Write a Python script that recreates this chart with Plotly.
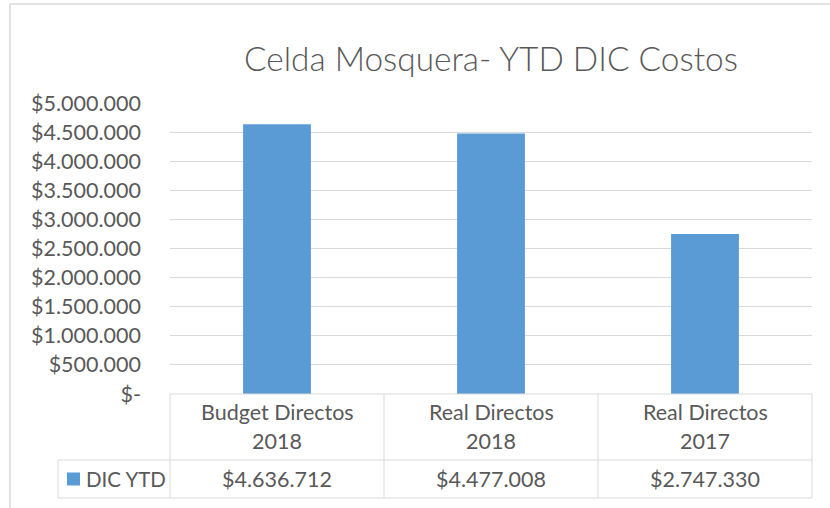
import plotly.graph_objects as go

# ---------------- data ----------------
title_text = "Celda Mosquera- YTD DIC Costos"
categories = ["Budget Directos 2018", "Real Directos 2018", "Real Directos 2017"]
category_line1 = ["Budget Directos", "Real Directos", "Real Directos"]
category_line2 = ["2018", "2018", "2017"]
series_name = "DIC YTD"
values = [4636712, 4477008, 2747330]
y_tickvals = [0, 500000, 1000000, 1500000, 2000000, 2500000,
              3000000, 3500000, 4000000, 4500000, 5000000]
y_ticktext = ["$-", "$500.000", "$1.000.000", "$1.500.000", "$2.000.000", "$2.500.000",
              "$3.000.000", "$3.500.000", "$4.000.000", "$4.500.000", "$5.000.000"]


def money(v):
    return "$" + f"{v:,}".replace(",", ".")


value_labels = [money(v) for v in values]

# ---------------- styling / layout ----------------
W, H = 830, 508
L, R, T, B = 170, 18, 103, 114
PW, PH = W - L - R, H - T - B
FONT = "Lato, Carlito, 'Open Sans', sans-serif"
TXT = "#595959"
GRID = "#D9D9D9"
BAR = "#5B9BD5"
FS = 21.5
FW = 400
TITLE_FW = 300


def px2x(px):
    return (px - L) / PW


def py2y(py):
    return (H - B - py) / PH


fig = go.Figure()
fig.add_trace(go.Bar(
    x=categories, y=values, name=series_name,
    marker=dict(color=BAR, line=dict(width=0)),
    showlegend=False, hoverinfo="skip",
))

shapes = []
line = dict(color=GRID, width=1)
# outer chart border
shapes.append(dict(type="rect", xref="paper", yref="paper",
                   x0=px2x(10), x1=px2x(845), y0=py2y(4), y1=py2y(520),
                   line=dict(color=GRID, width=1.5), layer="below"))
# data table grid
col_edges = [0, 1 / 3, 2 / 3, 1]
for xe in col_edges:
    shapes.append(dict(type="line", xref="paper", yref="paper",
                       x0=xe, x1=xe, y0=py2y(394), y1=py2y(498), line=line))
shapes.append(dict(type="line", xref="paper", yref="paper",
                   x0=0, x1=1, y0=py2y(394), y1=py2y(394), line=line))
for yy in (460, 498):
    shapes.append(dict(type="line", xref="paper", yref="paper",
                       x0=px2x(58), x1=1, y0=py2y(yy), y1=py2y(yy), line=line))
shapes.append(dict(type="line", xref="paper", yref="paper",
                   x0=px2x(58), x1=px2x(58), y0=py2y(460), y1=py2y(498), line=line))
# legend key swatch
shapes.append(dict(type="rect", xref="paper", yref="paper",
                   x0=px2x(67), x1=px2x(80), y0=py2y(472.5), y1=py2y(485.5),
                   fillcolor=BAR, line=dict(width=0)))

annotations = []
annotations.append(dict(text=title_text, xref="paper", yref="paper", x=0.5, y=py2y(58),
                        xanchor="center", yanchor="middle", showarrow=False,
                        font=dict(family=FONT, size=33.4, color=TXT, weight=TITLE_FW)))
for c, l1, l2, vl in zip(categories, category_line1, category_line2, value_labels):
    annotations.append(dict(text=l1, xref="x", yref="paper", x=c, y=py2y(412),
                            xanchor="center", yanchor="middle", showarrow=False,
                            font=dict(family=FONT, size=FS, color=TXT, weight=FW)))
    annotations.append(dict(text=l2, xref="x", yref="paper", x=c, y=py2y(441),
                            xanchor="center", yanchor="middle", showarrow=False,
                            font=dict(family=FONT, size=FS, color=TXT, weight=FW)))
    annotations.append(dict(text=vl, xref="x", yref="paper", x=c, y=py2y(479),
                            xanchor="center", yanchor="middle", showarrow=False,
                            font=dict(family=FONT, size=FS, color=TXT, weight=FW)))
annotations.append(dict(text=series_name, xref="paper", yref="paper", x=px2x(84), y=py2y(479),
                        xanchor="left", yanchor="middle", showarrow=False,
                        font=dict(family=FONT, size=FS - 1, color=TXT, weight=FW)))

fig.update_layout(
    width=W, height=H,
    margin=dict(l=L, r=R, t=T, b=B, pad=0),
    paper_bgcolor="white", plot_bgcolor="white",
    bargap=0.683,
    shapes=shapes, annotations=annotations,
    font=dict(family=FONT, color=TXT, size=FS, weight=FW),
    xaxis=dict(showticklabels=False, showgrid=False, zeroline=False, showline=False,
               range=[-0.5, 2.5], fixedrange=True),
    yaxis=dict(range=[0, 5000000], tickvals=y_tickvals, ticktext=y_ticktext,
               showgrid=True, gridcolor=GRID, gridwidth=1, zeroline=False, showline=False,
               ticks="", ticklabelstandoff=28,
               tickfont=dict(family=FONT, size=FS, color=TXT, weight=FW), fixedrange=True),
)

fig.write_html("out.html", config={"displayModeBar": False},
               post_script="document.body.style.margin='0';")
